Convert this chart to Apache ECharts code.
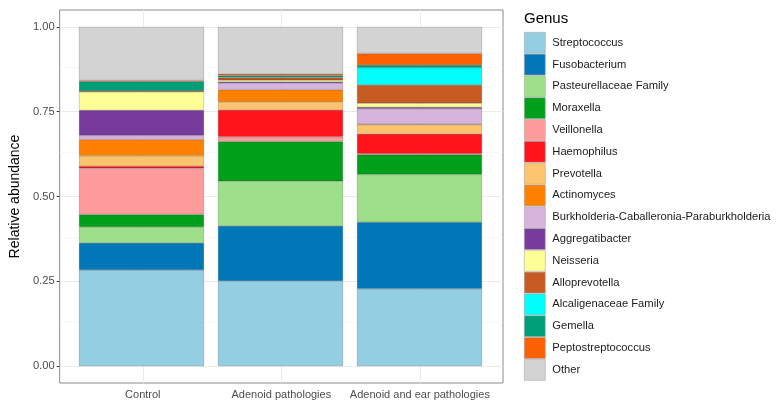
<!DOCTYPE html>
<html>
<head>
<meta charset="utf-8">
<script src="https://cdn.jsdelivr.net/npm/echarts@6/dist/echarts.min.js"></script>
<style>
  html, body { margin: 0; padding: 0; background: #fff; }
  #chart { width: 777px; height: 405px; }
</style>
</head>
<body>
<div id="chart"></div>
<script>
// 分组
const categories = ['Control', 'Adenoid pathologies', 'Adenoid and ear pathologies'];

// 菌属（从下往上堆叠）
const genera = [
  'Streptococcus', 'Fusobacterium', 'Pasteurellaceae Family', 'Moraxella',
  'Veillonella', 'Haemophilus', 'Prevotella', 'Actinomyces',
  'Burkholderia-Caballeronia-Paraburkholderia', 'Aggregatibacter', 'Neisseria',
  'Alloprevotella', 'Alcaligenaceae Family', 'Gemella', 'Peptostreptococcus', 'Other'
];

const genusColors = [
  '#93cee3', '#0077b7', '#9edf8a', '#00a01a',
  '#fe9c9b', '#ff141c', '#fec36f', '#fe8100',
  '#d6b4dc', '#773b9e', '#fefe97',
  '#c65b24', '#02fdfd', '#009f79', '#fd6000', '#d3d3d3'
];

// 相对丰度，每组一列，顺序同 genera
const controlValues = [0.283, 0.080, 0.047, 0.037, 0.136, 0.006, 0.031, 0.048,
  0.012, 0.074, 0.055, 0.003, 0.000, 0.027, 0.003, 0.158];
const adenoidValues = [0.251, 0.162, 0.132, 0.117, 0.014, 0.079, 0.024, 0.036,
  0.019, 0.004, 0.005, 0.007, 0.002, 0.005, 0.004, 0.139];
const earValues = [0.228, 0.196, 0.141, 0.058, 0.003, 0.058, 0.028, 0.002,
  0.045, 0.004, 0.012, 0.054, 0.051, 0.008, 0.034, 0.078];

const yTicks = [0, 0.25, 0.5, 0.75, 1];
const yMinor = [0.125, 0.375, 0.625, 0.875];

const font = 'Liberation Sans, Arial, sans-serif';
const myChart = echarts.init(document.getElementById('chart'));

// 每个菌属一个堆叠柱系列（画在第二个 grid 上）
function initBarSeries() {
  return genera.map((name, i) => ({
    name: name,
    type: 'bar',
    stack: 'total',
    xAxisIndex: 1,
    yAxisIndex: 1,
    barWidth: 125,
    z: 3,
    itemStyle: {
      color: genusColors[i],
      borderColor: 'rgba(0,0,0,0.35)',
      borderWidth: 0.5
    },
    data: [controlValues[i], adenoidValues[i], earValues[i]]
  }));
}

// 网格线（放在柱子下面）
function gridSeries() {
  const lines = [];
  yTicks.forEach(v => lines.push({ yAxis: v, lineStyle: { color: '#ebebeb', width: 1 } }));
  yMinor.forEach(v => lines.push({ yAxis: v, lineStyle: { color: '#f4f4f4', width: 0.6 } }));
  categories.forEach((c, i) => lines.push({ xAxis: i + 1, lineStyle: { color: '#ebebeb', width: 1 } }));
  return {
    type: 'line',
    z: 1,
    data: [],
    markLine: {
      z: 1,
      silent: true,
      symbol: 'none',
      label: { show: false },
      lineStyle: { type: 'solid' },
      data: lines
    }
  };
}

myChart.setOption({
  animation: false,
  textStyle: { fontFamily: font },
  title: {
    text: 'Genus',
    left: 524,
    top: 11,
    padding: 0,
    textStyle: { fontSize: 15, fontWeight: 'normal', color: '#000', fontFamily: font }
  },
  legend: {
    orient: 'vertical',
    left: 524,
    top: 32,
    padding: 0,
    itemWidth: 21,
    itemHeight: 21,
    itemGap: 0.2,
    selectedMode: false,
    icon: 'rect',
    data: genera,
    itemStyle: { borderColor: '#aaaaaa', borderWidth: 0.6 },
    textStyle: { fontSize: 11.2, color: '#1a1a1a', fontFamily: font, padding: [0, 0, 0, 2] }
  },
  grid: [
    // 面板：边框、刻度、网格线
    {
      left: 58,
      top: 10,
      width: 445,
      height: 373,
      show: true,
      borderColor: '#8a8a8a',
      borderWidth: 1,
      backgroundColor: '#fff'
    },
    // 柱子：左右各留 0.6 个类别宽度
    {
      left: 72,
      top: 10,
      width: 417,
      height: 373
    }
  ],
  xAxis: [
    {
      type: 'value',
      gridIndex: 0,
      min: 0.4,
      max: 3.6,
      axisLine: { show: false },
      splitLine: { show: false },
      axisTick: { show: true, length: 3, lineStyle: { color: '#333' }, customValues: [1, 2, 3] },
      axisLabel: {
        customValues: [1, 2, 3],
        formatter: v => categories[Math.round(v) - 1] || '',
        fontSize: 11,
        color: '#4d4d4d',
        margin: 6,
        fontFamily: font
      }
    },
    {
      type: 'category',
      gridIndex: 1,
      data: categories,
      show: false
    }
  ],
  yAxis: [
    {
      type: 'value',
      gridIndex: 0,
      min: -0.05,
      max: 1.05,
      name: 'Relative abundance',
      nameLocation: 'middle',
      nameRotate: 90,
      nameGap: 31,
      nameTextStyle: { fontSize: 14, color: '#000', fontFamily: font },
      axisLine: { show: false },
      splitLine: { show: false },
      axisTick: { show: true, length: 3, lineStyle: { color: '#333' }, customValues: yTicks },
      axisLabel: {
        customValues: yTicks,
        formatter: v => v.toFixed(2),
        fontSize: 11.2,
        color: '#4d4d4d',
        margin: 5,
        fontFamily: font
      }
    },
    {
      type: 'value',
      gridIndex: 1,
      min: -0.05,
      max: 1.05,
      show: false,
      splitLine: { show: false }
    }
  ],
  series: [gridSeries()].concat(initBarSeries())
});
</script>
</body>
</html>
